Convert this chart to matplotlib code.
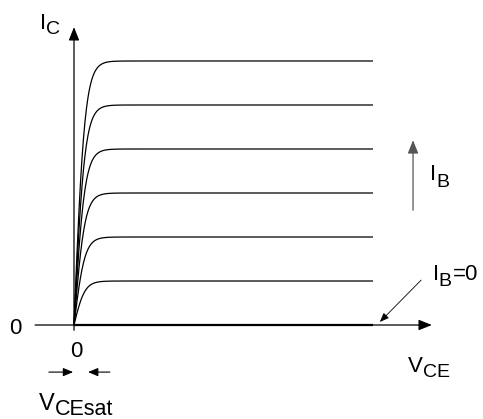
import numpy as np
import matplotlib
matplotlib.use('Agg')
import matplotlib.pyplot as plt

# ── Data ─────────────────────────────────────────────────────
ib_levels = [0, 1, 2, 3, 4, 5, 6]      # saturation current of each curve (arb. units)
v_end = 10.0                            # where the curves stop on the V_CE axis
knee_width = 0.36                       # width of the rounded saturation knee
v_axis = (-1.3, 11.97)                  # horizontal axis span
ic_axis = (-0.12, 6.77)                 # vertical axis span

# ── Style ────────────────────────────────────────────────────
plt.rcParams['font.family'] = ['Liberation Sans', 'DejaVu Sans']
INK = 'black'
MAIN_FS = 16
SUB_FS = 14

fig = plt.figure(figsize=(4.83, 4.19), dpi=100)
ax = fig.add_axes([0, 0, 1, 1])
ax.set_xlim(-2.475, 13.68)
ax.set_ylim(-2.136, 7.386)
ax.axis('off')


def arrow(start, end, color=INK, lw=0.9, hl=0.8, hw=0.32):
    ax.annotate('', xy=end, xytext=start,
                arrowprops=dict(arrowstyle=f'-|>,head_length={hl},head_width={hw}',
                                color=color, lw=lw, shrinkA=0, shrinkB=0,
                                mutation_scale=10))


def label(x, y, main, sub, dx, dy, fs=MAIN_FS, sfs=SUB_FS):
    # main letter, then subscript pushed right/down by (dx, dy) points
    ax.annotate(main, (x, y), fontsize=fs, ha='left', va='baseline', color=INK)
    ax.annotate(sub, (x, y), xytext=(dx, dy), textcoords='offset points',
                fontsize=sfs, ha='left', va='baseline', color=INK)


# ── Axes with arrows ─────────────────────────────────────────
arrow((0, ic_axis[0]), (0, ic_axis[1]))
arrow((v_axis[0], 0), (v_axis[1], 0))

# ── Output characteristic curves ─────────────────────────────
v = np.linspace(0, v_end, 600)
for lvl in ib_levels:
    ic = lvl * np.tanh(v / knee_width)
    ax.plot(v, ic, color=INK, lw=1.6 if lvl == 0 else 0.9,
            solid_capstyle='butt')

# ── I_B increasing arrow and I_B=0 pointer ───────────────────
arrow((11.34, 2.61), (11.34, 4.20), color='#555555', lw=0.9)
arrow((11.61, 1.02), (10.23, 0.07), lw=0.6, hl=0.55, hw=0.22)

# ── V_CEsat marker arrows ────────────────────────────────────
arrow((-0.84, -1.07), (-0.03, -1.07), lw=0.8, hl=0.6, hw=0.25)
arrow((1.20, -1.07), (0.47, -1.07), lw=0.8, hl=0.6, hw=0.25)

# ── Labels ───────────────────────────────────────────────────
label(-1.14, 6.73, 'I', 'C', 4.3, -3.5)
label(12.0, 1.02, 'I', 'B', 4.2, -4.3)
ax.annotate('=0', (12.68, 1.02), fontsize=MAIN_FS, ha='left', va='baseline')
label(11.91, 3.30, 'I', 'B', 4.2, -5.0)
label(11.17, -1.07, 'V', 'CE', 10.7, -3.6)
label(-1.17, -1.93, 'V', 'CEsat', 11.4, -3.6, fs=17, sfs=15.5)

ax.text(-1.97, -0.20, '0', fontsize=MAIN_FS, ha='center', va='baseline')
ax.text(0.07, -0.73, '0', fontsize=MAIN_FS, ha='center', va='baseline')

plt.savefig('out.png', dpi=100, facecolor='white')
plt.close()
